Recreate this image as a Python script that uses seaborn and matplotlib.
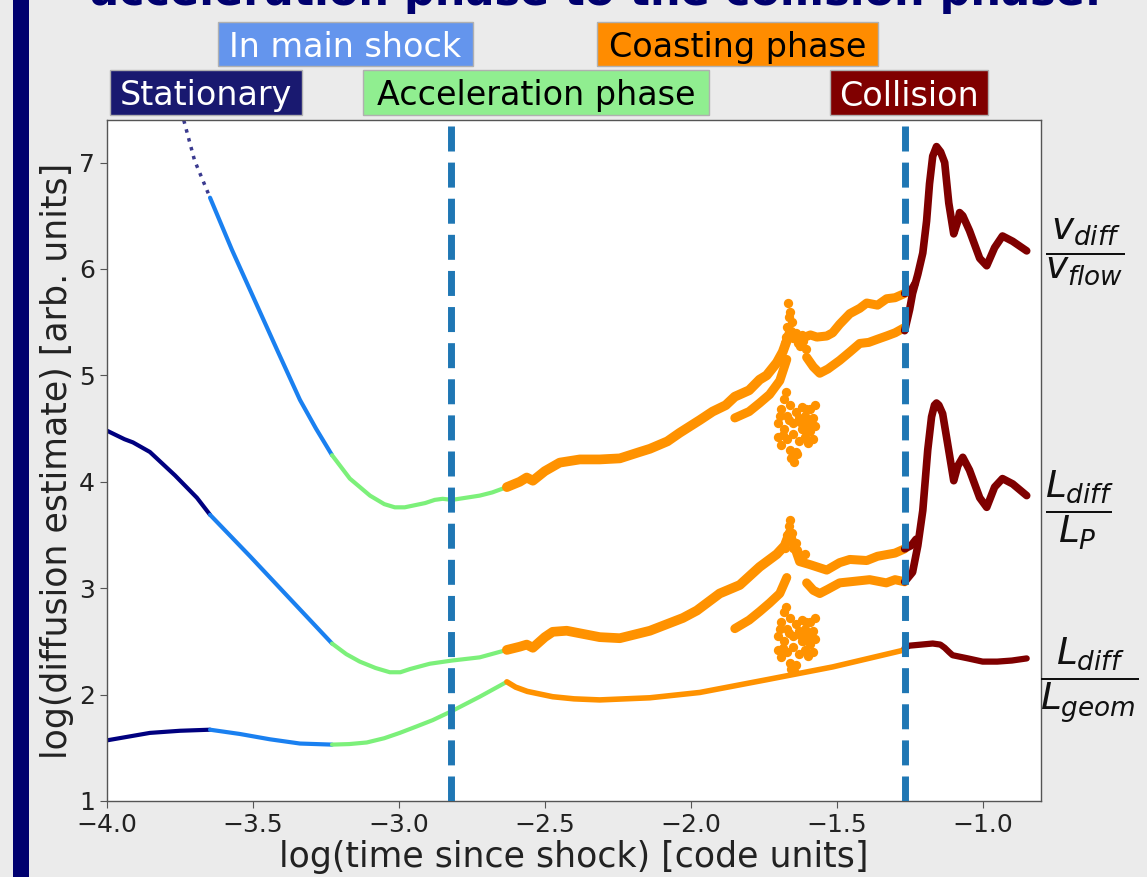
import numpy as np
import pandas as pd
import matplotlib
matplotlib.use("Agg")
import matplotlib.pyplot as plt
from matplotlib.patches import Rectangle
import seaborn as sns

# phase colours (jet-like)
c_stat = '#00007f'
c_shock = '#1a80f0'
c_acc = '#7cf07a'
c_coast = '#ff9200'
c_coll = '#7f0000'

# ---- v_diff / v_flow (top curve) ----
v_stat_x = [-3.745, -3.70, -3.647]
v_stat_y = [7.48, 7.02, 6.67]
v_shock_x = [-3.647, -3.572, -3.493, -3.414, -3.339, -3.284, -3.229]
v_shock_y = [6.67, 6.18, 5.70, 5.22, 4.77, 4.50, 4.25]
v_acc_x = [-3.229, -3.168, -3.099, -3.050, -3.014, -2.980, -2.945, -2.910, -2.877, -2.850, -2.818, -2.770, -2.723, -2.680, -2.630]
v_acc_y = [4.25, 4.03, 3.87, 3.79, 3.76, 3.76, 3.78, 3.80, 3.83, 3.84, 3.83, 3.85, 3.87, 3.90, 3.95]
v_coast_x = [-2.630, -2.586, -2.562, -2.541, -2.500, -2.449, -2.380, -2.312, -2.243, -2.175,
             -2.140, -2.080, -2.038, -1.969, -1.925, -1.880, -1.849, -1.800, -1.764, -1.740,
             -1.705, -1.685, -1.661]
v_coast_y = [3.95, 4.00, 4.04, 4.01, 4.10, 4.18, 4.21, 4.21, 4.22, 4.28,
             4.31, 4.38, 4.46, 4.58, 4.66, 4.72, 4.80, 4.86, 4.96, 5.00,
             5.12, 5.22, 5.40]
v_low_x = [-1.849, -1.800, -1.764, -1.730, -1.695, -1.671]
v_low_y = [4.60, 4.66, 4.74, 4.82, 4.95, 5.15]
v_up2_x = [-1.661, -1.627, -1.590, -1.568, -1.534, -1.514, -1.490, -1.455, -1.421, -1.397, -1.360, -1.329, -1.300, -1.267]
v_up2_y = [5.40, 5.34, 5.38, 5.36, 5.37, 5.40, 5.48, 5.58, 5.63, 5.68, 5.66, 5.72, 5.73, 5.77]
v_low2_x = [-1.603, -1.580, -1.558, -1.530, -1.490, -1.455, -1.421, -1.390, -1.360, -1.329, -1.300, -1.267]
v_low2_y = [5.17, 5.08, 5.02, 5.06, 5.14, 5.22, 5.30, 5.31, 5.34, 5.37, 5.40, 5.45]
v_coll_x = [-1.267, -1.250, -1.240, -1.222, -1.205, -1.192, -1.182, -1.171, -1.158, -1.144, -1.130, -1.116,
            -1.099, -1.085, -1.079, -1.068, -1.045, -1.010, -0.986, -0.959, -0.932, -0.897, -0.849]
v_coll_y = [5.42, 5.62, 5.77, 5.95, 6.15, 6.45, 6.80, 7.06, 7.15, 7.10, 7.00, 6.62,
            6.33, 6.45, 6.53, 6.50, 6.36, 6.10, 6.03, 6.20, 6.31, 6.26, 6.17]
v_join_x = [-1.267, -1.245, -1.232]
v_join_y = [5.77, 5.80, 5.86]
v_spike_x = [-1.678, -1.671, -1.665, -1.668, -1.655, -1.648, -1.640, -1.632, -1.625, -1.615, -1.605, -1.660,
             -1.674, -1.652, -1.636, -1.620]
v_spike_y = [5.30, 5.45, 5.55, 5.68, 5.42, 5.35, 5.40, 5.30, 5.28, 5.32, 5.25, 5.60,
             5.36, 5.50, 5.36, 5.38]
v_cloud_x = [-1.700, -1.700, -1.690, -1.690, -1.680, -1.680, -1.670, -1.670, -1.660, -1.660, -1.650,
             -1.650, -1.640, -1.640, -1.630, -1.630, -1.620, -1.620, -1.610, -1.610, -1.600, -1.600,
             -1.590, -1.590, -1.580, -1.580, -1.575, -1.575, -1.675, -1.655, -1.645, -1.635, -1.665,
             -1.695, -1.685, -1.625, -1.615, -1.595, -1.605]
v_cloud_y = [4.55, 4.42, 4.68, 4.35, 4.78, 4.50, 4.62, 4.40, 4.72, 4.30, 4.55,
             4.45, 4.66, 4.28, 4.38, 4.60, 4.50, 4.70, 4.42, 4.62, 4.55, 4.36,
             4.68, 4.48, 4.60, 4.40, 4.52, 4.72, 4.84, 4.22, 4.19, 4.26, 4.58,
             4.62, 4.44, 4.56, 4.50, 4.58, 4.68]

# ---- L_diff / L_P (middle curve) ----
p_stat_x = [-4.000, -3.970, -3.940, -3.911, -3.853, -3.767, -3.692, -3.647]
p_stat_y = [4.48, 4.44, 4.40, 4.37, 4.28, 4.06, 3.85, 3.69]
p_shock_x = [-3.647, -3.510, -3.373, -3.229]
p_shock_y = [3.69, 3.30, 2.90, 2.48]
p_acc_x = [-3.229, -3.180, -3.134, -3.080, -3.031, -2.995, -2.962, -2.894, -2.818, -2.723, -2.630]
p_acc_y = [2.48, 2.38, 2.31, 2.25, 2.21, 2.21, 2.24, 2.29, 2.32, 2.35, 2.42]
p_coast_x = [-2.630, -2.586, -2.562, -2.541, -2.500, -2.473, -2.425, -2.312, -2.243, -2.140, -2.027,
             -1.979, -1.901, -1.832, -1.764, -1.705, -1.678, -1.661]
p_coast_y = [2.42, 2.45, 2.47, 2.44, 2.54, 2.59, 2.60, 2.54, 2.53, 2.60, 2.72,
             2.79, 2.95, 3.03, 3.20, 3.32, 3.40, 3.52]
p_low_x = [-1.849, -1.800, -1.764, -1.730, -1.695, -1.671]
p_low_y = [2.62, 2.70, 2.78, 2.86, 2.95, 3.10]
p_up2_x = [-1.661, -1.627, -1.590, -1.534, -1.490, -1.455, -1.397, -1.360, -1.300, -1.267]
p_up2_y = [3.52, 3.25, 3.22, 3.17, 3.24, 3.27, 3.26, 3.30, 3.33, 3.37]
p_low2_x = [-1.603, -1.580, -1.558, -1.530, -1.490, -1.455, -1.387, -1.330, -1.300, -1.267]
p_low2_y = [3.05, 2.98, 2.95, 2.99, 3.05, 3.06, 3.08, 3.05, 3.08, 3.06]
p_coll_x = [-1.267, -1.240, -1.222, -1.205, -1.188, -1.175, -1.165, -1.158, -1.150, -1.137, -1.120, -1.099,
            -1.085, -1.068, -1.045, -1.010, -0.986, -0.959, -0.932, -0.897, -0.849]
p_coll_y = [3.06, 3.15, 3.40, 3.73, 4.30, 4.61, 4.72, 4.74, 4.72, 4.64, 4.36, 4.01,
            4.15, 4.23, 4.11, 3.85, 3.76, 3.95, 4.03, 3.98, 3.87]
p_join_x = [-1.267, -1.245, -1.228]
p_join_y = [3.37, 3.40, 3.46]
p_spike_x = [-1.678, -1.671, -1.665, -1.661, -1.655, -1.648, -1.640, -1.632, -1.620, -1.610,
             -1.674, -1.652, -1.636]
p_spike_y = [3.38, 3.50, 3.58, 3.64, 3.45, 3.38, 3.42, 3.33, 3.30, 3.32,
             3.44, 3.52, 3.36]
p_cloud_x = [-1.700, -1.700, -1.690, -1.690, -1.680, -1.680, -1.670, -1.670, -1.660, -1.660, -1.650,
             -1.650, -1.640, -1.640, -1.630, -1.630, -1.620, -1.620, -1.610, -1.610, -1.600, -1.600,
             -1.590, -1.590, -1.580, -1.580, -1.575, -1.575, -1.675, -1.655, -1.645, -1.665,
             -1.695, -1.685, -1.625, -1.615, -1.595, -1.605]
p_cloud_y = [2.55, 2.42, 2.68, 2.35, 2.78, 2.50, 2.62, 2.40, 2.72, 2.30, 2.55,
             2.45, 2.66, 2.28, 2.38, 2.60, 2.50, 2.70, 2.42, 2.62, 2.55, 2.36,
             2.68, 2.48, 2.60, 2.40, 2.52, 2.72, 2.82, 2.24, 2.22, 2.58,
             2.62, 2.44, 2.56, 2.50, 2.58, 2.68]

# ---- L_diff / L_geom (bottom curve) ----
g_stat_x = [-4.000, -3.853, -3.750, -3.647]
g_stat_y = [1.57, 1.64, 1.66, 1.67]
g_shock_x = [-3.647, -3.545, -3.442, -3.339, -3.229]
g_shock_y = [1.67, 1.63, 1.58, 1.54, 1.53]
g_acc_x = [-3.229, -3.170, -3.110, -3.050, -2.997, -2.940, -2.884, -2.815, -2.723, -2.630]
g_acc_y = [1.53, 1.535, 1.55, 1.59, 1.64, 1.70, 1.76, 1.85, 1.98, 2.12]
g_coast_x = [-2.630, -2.600, -2.560, -2.473, -2.400, -2.312, -2.140, -1.969, -1.740, -1.514, -1.267]
g_coast_y = [2.12, 2.07, 2.03, 1.98, 1.96, 1.95, 1.97, 2.02, 2.14, 2.26, 2.42]
g_coll_x = [-1.267, -1.250, -1.210, -1.171, -1.145, -1.130, -1.115, -1.103, -1.050, -1.000, -0.950, -0.900, -0.849]
g_coll_y = [2.44, 2.46, 2.47, 2.48, 2.47, 2.44, 2.40, 2.37, 2.34, 2.31, 2.31, 2.32, 2.34]

phase_lines = [-2.82, -1.265]
x_ticks = [-4.0, -3.5, -3.0, -2.5, -2.0, -1.5, -1.0]
y_ticks = [1, 2, 3, 4, 5, 6, 7]

# (text, left px, top px, right px, bottom px, face, text colour)
phase_boxes = [
    ("In main shock", 218, 22, 473, 66, '#6495ed', 'white'),
    ("Coasting phase", 597, 22, 878, 66, '#ff8c00', 'black'),
    ("Stationary", 110, 70, 302, 115, '#191970', 'white'),
    ("Acceleration phase", 363, 70, 709, 115, '#90ee90', 'black'),
    ("Collision", 830, 70, 988, 115, '#800000', 'white'),
]

sns.set_style("ticks")
plt.rcParams['font.family'] = ['DejaVu Sans']
plt.rcParams['mathtext.fontset'] = 'dejavusans'

W, H = 1147, 877
fig = plt.figure(figsize=(W / 100, H / 100), dpi=100, facecolor='#ebebeb')
ax = fig.add_axes([107 / W, 1 - 801 / H, (1041 - 107) / W, (801 - 120) / H])
ax.set_facecolor('white')


def seg(xs, ys, color, lw, ls='-'):
    sns.lineplot(x=xs, y=ys, ax=ax, color=color, lw=lw, ls=ls, sort=False,
                 estimator=None, solid_capstyle='round', solid_joinstyle='round')


def dots(xs, ys, s=45):
    sns.scatterplot(x=xs, y=ys, ax=ax, color=c_coast, s=s, linewidth=0)


# top curve
seg(v_stat_x, v_stat_y, '#3a3a8f', 2.5, ':')
seg(v_shock_x, v_shock_y, c_shock, 3)
seg(v_acc_x, v_acc_y, c_acc, 3)
seg(v_coast_x, v_coast_y, c_coast, 7)
seg(v_low_x, v_low_y, c_coast, 6.5)
seg(v_up2_x, v_up2_y, c_coast, 6.5)
seg(v_low2_x, v_low2_y, c_coast, 6.5)
dots(v_spike_x, v_spike_y)
dots(v_cloud_x, v_cloud_y)
seg(v_coll_x, v_coll_y, c_coll, 5.5)
seg(v_join_x, v_join_y, c_coll, 5.5)

# middle curve
seg(p_stat_x, p_stat_y, c_stat, 3)
seg(p_shock_x, p_shock_y, c_shock, 3)
seg(p_acc_x, p_acc_y, c_acc, 3)
seg(p_coast_x, p_coast_y, c_coast, 7)
seg(p_low_x, p_low_y, c_coast, 6.5)
seg(p_up2_x, p_up2_y, c_coast, 6.5)
seg(p_low2_x, p_low2_y, c_coast, 6.5)
dots(p_spike_x, p_spike_y)
dots(p_cloud_x, p_cloud_y)
seg(p_coll_x, p_coll_y, c_coll, 5.5)
seg(p_join_x, p_join_y, c_coll, 5.5)

# bottom curve
seg(g_stat_x, g_stat_y, c_stat, 3)
seg(g_shock_x, g_shock_y, c_shock, 3)
seg(g_acc_x, g_acc_y, c_acc, 3)
seg(g_coast_x, g_coast_y, c_coast, 4)
seg(g_coll_x, g_coll_y, c_coll, 4.5)

for xv in phase_lines:
    ax.axvline(xv, color='#1f77b4', lw=5, dashes=(3.6, 1.6), zorder=5)

ax.set_xlim(-4.0, -0.8)
ax.set_ylim(1.0, 7.4)
ax.set_xticks(x_ticks)
ax.set_yticks(y_ticks)
ax.tick_params(labelsize=18, length=5, color='#555555', labelcolor='#222222')
for sp in ax.spines.values():
    sp.set_color('#555555')
    sp.set_linewidth(1.0)
ax.set_xlabel("log(time since shock) [code units]", fontsize=25, color='#222222', labelpad=2)
ax.set_ylabel("log(diffusion estimate) [arb. units]", fontsize=25, color='#222222', labelpad=4)

# slide decorations
fig.patches.append(Rectangle((13 / W, 0), 16 / W, 1, transform=fig.transFigure,
                             facecolor='#00006f', edgecolor='none'))
fig.text(90 / W, 1 - 5 / H, "acceleration phase to the collision phase.",
         fontsize=31, fontweight='bold', color='#00006e', ha='left', va='baseline')

for label, x0, y0, x1, y1, face, tc in phase_boxes:
    fig.patches.append(Rectangle((x0 / W, 1 - y1 / H), (x1 - x0) / W, (y1 - y0) / H,
                                 transform=fig.transFigure, facecolor=face,
                                 edgecolor='#b0b0b0', lw=1))
    fig.text((x0 + x1) / 2 / W, 1 - (y0 + y1) / 2 / H, label, fontsize=24, color=tc,
             ha='center', va='center_baseline')

fig.text(1045 / W, 1 - 252 / H, r'$\dfrac{v_{diff}}{v_{flow}}$', fontsize=27,
         ha='left', va='center', color='#111111')
fig.text(1045 / W, 1 - 510 / H, r'$\dfrac{L_{diff}}{L_P}$', fontsize=27,
         ha='left', va='center', color='#111111')
fig.text(1040 / W, 1 - 680 / H, r'$\dfrac{L_{diff}}{L_{geom}}$', fontsize=27,
         ha='left', va='center', color='#111111')

fig.savefig("out.png", dpi=100, facecolor=fig.get_facecolor())
